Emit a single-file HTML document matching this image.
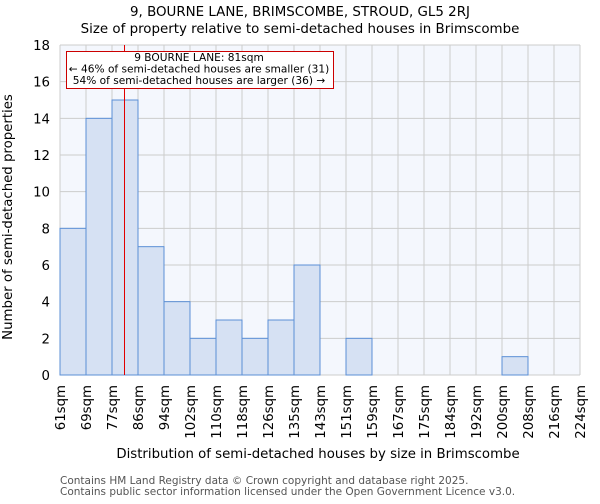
<!DOCTYPE html>
<html><head><meta charset="utf-8"><style>
body{margin:0;background:#fff;font-family:"DejaVu Sans","Liberation Sans",sans-serif}
svg text{font-family:"DejaVu Sans","Liberation Sans",sans-serif}
</style></head><body>
<svg id="c" width="600" height="500" xmlns="http://www.w3.org/2000/svg">
<text x="300" y="16" text-anchor="middle" font-size="13.4">9, BOURNE LANE, BRIMSCOMBE, STROUD, GL5 2RJ</text>
<text x="300" y="33" text-anchor="middle" font-size="13.4">Size of property relative to semi-detached houses in Brimscombe</text>
<rect x="60" y="45" width="520" height="330" fill="#f4f7fd"/>
<g id="grid"></g><g id="bars"></g><g id="yt"></g><g id="xt"></g>
<text x="318" y="458" text-anchor="middle" font-size="13.3">Distribution of semi-detached houses by size in Brimscombe</text>
<text transform="translate(12,217) rotate(-90)" text-anchor="middle" font-size="13.3">Number of semi-detached properties</text>
<text x="60" y="484" font-size="10.5" fill="#555">Contains HM Land Registry data © Crown copyright and database right 2025.</text>
<text x="60" y="495" font-size="10.5" fill="#555">Contains public sector information licensed under the Open Government Licence v3.0.</text>
<line id="marker" y1="45" y2="375" stroke="#e00000" stroke-width="1"/>
<rect x="66.5" y="51.5" width="267" height="37" fill="#fff" stroke="#cc0000"/>
<text x="199" y="61" text-anchor="middle" font-size="10.6">9 BOURNE LANE: 81sqm</text>
<text x="199" y="72.5" text-anchor="middle" font-size="10.6">← 46% of semi-detached houses are smaller (31)</text>
<text x="199" y="84" text-anchor="middle" font-size="10.6">54% of semi-detached houses are larger (36) →</text>
</svg>
<script>
const binLabels=["61sqm","69sqm","77sqm","86sqm","94sqm","102sqm","110sqm","118sqm","126sqm","135sqm","143sqm","151sqm","159sqm","167sqm","175sqm","184sqm","192sqm","200sqm","208sqm","216sqm","224sqm"];
const binEdges=[61,69,77,86,94,102,110,118,126,135,143,151,159,167,175,184,192,200,208,216,224];
const counts=[8,14,15,7,4,2,3,2,3,6,0,2,0,0,0,0,0,1,0,0];
const yTicks=[0,2,4,6,8,10,12,14,16,18];
const propertySize=81;
const NS="http://www.w3.org/2000/svg";
const X0=60,BW=26,Y0=375,YH=330,YMAX=18;
const xs=i=>X0+i*BW;
const ys=v=>Y0-v/YMAX*YH;
function xv(v){for(let i=0;i<binEdges.length-1;i++){if(v<=binEdges[i+1])return xs(i)+(v-binEdges[i])/(binEdges[i+1]-binEdges[i])*BW;}return xs(binEdges.length-1);}
function mk(t,a,p){const e=document.createElementNS(NS,t);for(const k in a)e.setAttribute(k,a[k]);p.appendChild(e);return e;}
const g=document.getElementById('grid'),b=document.getElementById('bars'),yt=document.getElementById('yt'),xt=document.getElementById('xt');
yTicks.forEach(v=>{const l=mk('line',{x1:X0,x2:X0+520,y1:ys(v),y2:ys(v),stroke:'#cccccc'},g);


const t=mk('text',{x:X0-10,y:ys(v)+5,'text-anchor':'end','font-size':'13.3'},yt);t.textContent=v;

});
binLabels.forEach((s,i)=>{const l=mk('line',{x1:xs(i),x2:xs(i),y1:45,y2:Y0,stroke:'#cccccc'},g);


const t=mk('text',{transform:`translate(${xs(i)+5},${Y0+10}) rotate(-90)`,'text-anchor':'end','font-size':'13.3'},xt);t.textContent=s;

});
counts.forEach((v,i)=>{if(v<=0)return;const r=mk('rect',{x:xs(i),y:ys(v),width:BW,height:Y0-ys(v),fill:'#d6e1f3',stroke:'#5b8fd6','stroke-width':1},b);

});
const m=document.getElementById('marker');const mx=Math.round(xv(propertySize))+0.5;m.setAttribute('x1',mx);m.setAttribute('x2',mx);
</script>
</body></html>
